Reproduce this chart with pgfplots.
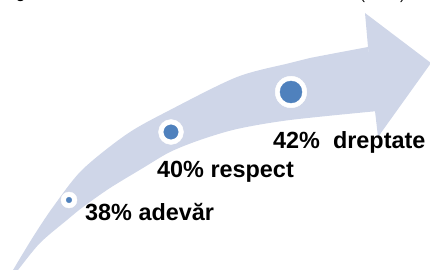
\documentclass[border=0pt]{standalone}
\usepackage{fontspec}
\setmainfont{Liberation Sans}
\usepackage{pgfplots}
\pgfplotsset{compat=1.18}
\usepgfplotslibrary{fillbetween}
\definecolor{arrowfill}{RGB}{207,214,232}
\definecolor{dotblue}{RGB}{79,129,189}
\begin{document}
\begin{tikzpicture}
\begin{axis}[at={(0,0)},anchor=south west,
  width=430bp,height=270bp,scale only axis,
  xmin=0,xmax=430,ymin=0,ymax=270,hide axis,clip=true]
% arrow body edges
\addplot[name path=upper, draw=none, smooth] coordinates {
  (10,-5) (13,0) (33,33) (53,63) (82,100) (127,136) (170,160) (237,193) (290,207) (310,212) (368,223)};
\addplot[name path=lower, draw=none, smooth] coordinates {
  (14,-5) (18,0) (40,27) (67,50) (83,63) (110,82) (143,102) (170,118) (200,130) (237,141) (290,150) (378,159)};
\addplot[fill=arrowfill, draw=none] fill between[of=upper and lower];
% arrow head
\addplot[fill=arrowfill, draw=none] coordinates {
  (365,257) (431,207) (378,133) (375,159) (368,223)} -- cycle;
% circles
\addplot[only marks, mark=*, color=white, mark size=8bp] coordinates {(69,70)};
\addplot[only marks, mark=*, color=dotblue, mark size=2.8bp] coordinates {(69,70)};
\addplot[only marks, mark=*, color=white, mark size=12.5bp] coordinates {(171,138)};
\addplot[only marks, mark=*, color=dotblue, mark size=7.2bp] coordinates {(171,138)};
\addplot[only marks, mark=*, color=white, mark size=15.8bp] coordinates {(291,178)};
\addplot[only marks, mark=*, color=dotblue, mark size=11bp] coordinates {(291,178)};
% labels
\node[anchor=base west, inner sep=0, font=\bfseries\fontsize{23.5}{28}\selectfont] at (axis cs:85,50) {38\% adevăr};
\node[anchor=base west, inner sep=0, font=\bfseries\fontsize{23.5}{28}\selectfont] at (axis cs:157,93) {40\% respect};
\node[anchor=base west, inner sep=0, font=\bfseries\fontsize{23.5}{28}\selectfont] at (axis cs:273,122) {42\%~~dreptate};
% cut-off title fragments
\node[anchor=base west, inner sep=0, font=\bfseries\fontsize{15}{18}\selectfont] at (axis cs:16,272) {g};
\node[anchor=base west, inner sep=0, font=\fontsize{15}{18}\selectfont] at (axis cs:360,270.5) {(};
\node[anchor=base west, inner sep=0, font=\fontsize{15}{18}\selectfont] at (axis cs:400,270.5) {)};
\end{axis}
\pgfresetboundingbox
\useasboundingbox (0,0) rectangle (430bp,270bp);
\end{tikzpicture}
\end{document}
